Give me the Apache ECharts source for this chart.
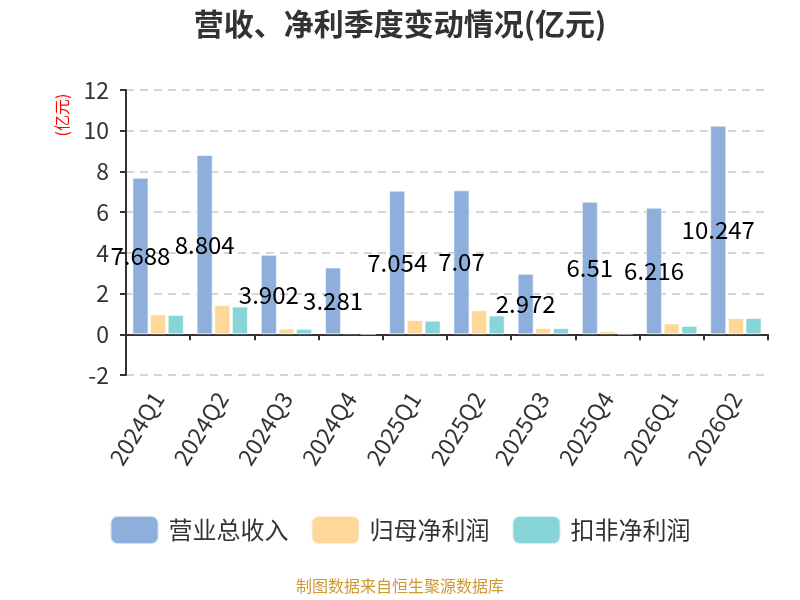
<!DOCTYPE html>
<html>
<head>
<meta charset="utf-8">
<script src="https://cdn.jsdelivr.net/npm/echarts@6/dist/echarts.min.js"></script>
<style>html,body{margin:0;padding:0;background:#fff}#c{width:800px;height:600px}</style>
</head>
<body>
<div id="c"></div>
<script>
var categories = ['2024Q1','2024Q2','2024Q3','2024Q4','2025Q1','2025Q2','2025Q3','2025Q4','2026Q1','2026Q2'];
var revenue = [7.688, 8.804, 3.902, 3.281, 7.054, 7.07, 2.972, 6.51, 6.216, 10.247];
var netProfit = [0.98, 1.44, 0.28, 0.06, 0.70, 1.18, 0.31, 0.15, 0.53, 0.80];
var deductedProfit = [0.95, 1.36, 0.27, 0.02, 0.67, 0.92, 0.30, 0.03, 0.41, 0.80];
var seriesNames = ['营业总收入', '归母净利润', '扣非净利润'];
var yTicks = {min: -2, max: 12, interval: 2};

var font = '"Noto Sans CJK SC", "Noto Sans", sans-serif';
var chart = echarts.init(document.getElementById('c'));
chart.setOption({
  animation: false,
  textStyle: {fontFamily: font},
  title: {
    text: '营收、净利季度变动情况(亿元)',
    left: 'center', top: 4,
    textStyle: {fontSize: 30, fontWeight: 'bold', color: '#333', fontFamily: font}
  },
  color: ['#8eaedb', '#fed898', '#87d5d8'],
  legend: {
    data: seriesNames,
    bottom: 50,
    left: 'center',
    itemWidth: 48,
    itemHeight: 28,
    itemGap: 22,
    icon: 'roundRect',
    textStyle: {fontSize: 24, color: '#333', fontFamily: font, padding: [0, 0, 0, 5]}
  },
  grid: {left: 126, right: 32, top: 90, bottom: 225},
  xAxis: {
    type: 'category',
    data: categories,
    axisLine: {onZero: true, lineStyle: {color: '#333', width: 2}},
    axisTick: {show: true, length: 6, lineStyle: {color: '#333', width: 2}},
    axisLabel: {rotate: 58, fontSize: 23, color: '#333', margin: 19, fontFamily: font}
  },
  yAxis: {
    type: 'value',
    min: yTicks.min, max: yTicks.max, interval: yTicks.interval,
    axisLine: {show: true, lineStyle: {color: '#333', width: 2}},
    axisTick: {show: true, length: 6, lineStyle: {color: '#333', width: 2}},
    axisLabel: {fontSize: 23, color: '#333', margin: 17, fontFamily: font},
    splitLine: {lineStyle: {type: [8, 6], color: '#c8c8c8', width: 1.5}}
  },
  series: [
    {
      name: seriesNames[0], type: 'bar', data: revenue,
      barGap: '10%', barCategoryGap: '20%',
      itemStyle: {borderColor: 'rgba(255,255,255,0.6)', borderWidth: 1},
      label: {show: true, position: 'inside', color: '#000', fontSize: 24, fontFamily: font}
    },
    {
      name: seriesNames[1], type: 'bar', data: netProfit,
      barGap: '10%', barCategoryGap: '20%',
      itemStyle: {borderColor: 'rgba(255,255,255,0.6)', borderWidth: 1}
    },
    {
      name: seriesNames[2], type: 'bar', data: deductedProfit,
      barGap: '10%', barCategoryGap: '20%',
      itemStyle: {borderColor: 'rgba(255,255,255,0.6)', borderWidth: 1}
    }
  ],
  graphic: [
    {
      type: 'text', x: 62, y: 115, rotation: Math.PI / 2,
      style: {text: '(亿元)', fill: '#ff0000', fontSize: 16, fontFamily: font, align: 'center', verticalAlign: 'middle'}
    },
    {
      type: 'text', left: 'center', top: 578,
      style: {text: '制图数据来自恒生聚源数据库', fill: '#cc9933', fontSize: 16, fontFamily: font}
    }
  ]
});
</script>
</body>
</html>
